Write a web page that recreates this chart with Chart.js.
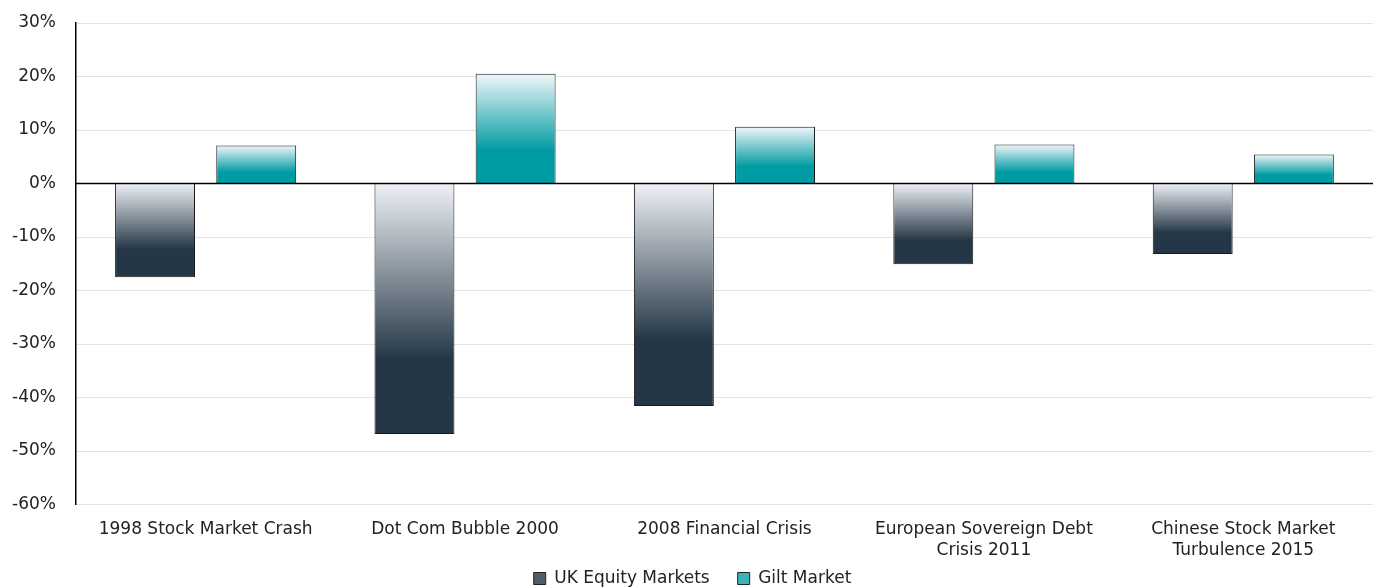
<!DOCTYPE html>
<html>
  <head>
    <meta charset="UTF-8" />
    <title>UK Equity vs Gilt Market</title>
    <script src="https://cdn.jsdelivr.net/npm/chart.js"></script>
    <style>
      html,
      body {
        margin: 0;
        padding: 0;
        background: #fff;
      }
      .wrap {
        width: 1373px;
        height: 588px;
        position: relative;
      }
    </style>
  </head>
  <body>
    <div class="wrap">
      <canvas id="crisisChart"></canvas>
    </div>

    <script>
      const categories = [
        "1998 Stock Market Crash",
        "Dot Com Bubble 2000",
        "2008 Financial Crisis",
        ["European Sovereign Debt", "Crisis 2011"],
        ["Chinese Stock Market", "Turbulence 2015"],
      ];
      const ukEquity = [-17.5, -46.8, -41.6, -15.1, -13.2];
      const giltMarket = [7.1, 20.5, 10.6, 7.3, 5.4];
      const yTicks = [30, 20, 10, 0, -10, -20, -30, -40, -50, -60];

      const FONT = "'DejaVu Sans', sans-serif";

      // vertical gradient per bar: light at one end, dark towards the other
      function barGradient(ctx, light, dark) {
        const chart = ctx.chart;
        const yScale = chart.scales.y;
        if (!chart.chartArea || !yScale || ctx.raw === undefined) return dark;
        const y0 = yScale.getPixelForValue(0);
        const y1 = yScale.getPixelForValue(ctx.raw);
        if (!isFinite(y0) || !isFinite(y1) || y0 === y1) return dark;
        let g;
        if (ctx.raw < 0) {
          g = chart.ctx.createLinearGradient(0, y0, 0, y1);
        } else {
          g = chart.ctx.createLinearGradient(0, y1, 0, y0);
        }
        g.addColorStop(0, light);
        g.addColorStop(0.7, dark);
        g.addColorStop(1, dark);
        return g;
      }

      const zeroLine = {
        id: "zeroLine",
        afterDatasetsDraw(chart) {
          const { ctx, chartArea, scales } = chart;
          const y = scales.y.getPixelForValue(0);
          ctx.save();
          ctx.strokeStyle = "#000";
          ctx.lineWidth = 1.5;
          ctx.beginPath();
          ctx.moveTo(chartArea.left, y);
          ctx.lineTo(chartArea.right, y);
          ctx.stroke();
          ctx.restore();
        },
      };

      new Chart(document.getElementById("crisisChart"), {
        type: "bar",
        data: {
          labels: categories,
          datasets: [
            {
              label: "UK Equity Markets",
              data: ukEquity,
              backgroundColor: (c) => barGradient(c, "#eef1f6", "#253746"),
              borderColor: "#1a1a1a",
              borderWidth: 1,
              categoryPercentage: 0.78,
              barPercentage: 0.79,
              legendFill: "#4e5d6b",
            },
            {
              label: "Gilt Market",
              data: giltMarket,
              backgroundColor: (c) => barGradient(c, "#f1f6fa", "#009ca3"),
              borderColor: "#1a1a1a",
              borderWidth: 1,
              categoryPercentage: 0.78,
              barPercentage: 0.79,
              legendFill: "#3ab4ba",
            },
          ],
        },
        options: {
          responsive: true,
          maintainAspectRatio: false,
          animation: false,
          layout: { padding: { top: 23, right: 0, left: 12, bottom: -9 } },
          plugins: {
            legend: {
              position: "bottom",
              labels: {
                font: { family: FONT, size: 17, lineHeight: 1 },
                color: "#222",
                boxWidth: 12,
                boxHeight: 12,
                padding: 1,
                generateLabels(chart) {
                  return chart.data.datasets.map((ds, i) => ({
                    // trailing spaces widen the gap between the two items
                    text: i === 0 ? ds.label + "     " : ds.label,
                    fillStyle: ds.legendFill,
                    strokeStyle: "#222",
                    lineWidth: 1,
                    datasetIndex: i,
                    fontColor: "#222",
                  }));
                },
              },
            },
            tooltip: { enabled: false },
          },
          scales: {
            x: {
              grid: { display: false, drawTicks: false },
              border: { display: false },
              afterFit(scale) {
                scale.height -= 6;
              },
              ticks: {
                font: { family: FONT, size: 17, lineHeight: 1.25 },
                color: "#222",
                padding: 14,
                maxRotation: 0,
                autoSkip: false,
              },
            },
            y: {
              min: -60,
              max: 30,
              afterBuildTicks(axis) {
                axis.ticks = yTicks.map((v) => ({ value: v }));
              },
              grid: {
                color: "#e3e3e3",
                lineWidth: 1,
                drawTicks: true,
                tickLength: 20,
                tickColor: "rgba(0,0,0,0)",
              },
              border: { display: true, color: "#000", width: 1.5 },
              ticks: {
                font: { family: FONT, size: 17 },
                color: "#222",
                padding: 0,
                callback: (v) => v + "%",
              },
            },
          },
        },
        plugins: [zeroLine],
      });
    </script>
  </body>
</html>
